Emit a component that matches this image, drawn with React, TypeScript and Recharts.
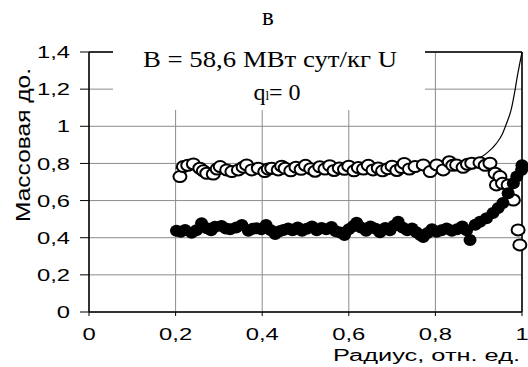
import { ComposedChart, Line, Scatter, XAxis, YAxis, CartesianGrid, ReferenceLine } from "recharts"

// open circles (upper series)
const openX = [
  0.210, 0.218, 0.228, 0.241, 0.256, 0.264, 0.272, 0.287, 0.296, 0.303, 0.318, 0.330, 0.345, 0.356, 0.364, 0.376,
  0.391, 0.406, 0.414, 0.422, 0.437, 0.445, 0.453, 0.466, 0.478, 0.490, 0.500, 0.512, 0.522, 0.533, 0.545, 0.556,
  0.566, 0.578, 0.590, 0.600, 0.612, 0.622, 0.634, 0.645, 0.656, 0.668, 0.678, 0.690, 0.700, 0.711, 0.722, 0.728,
  0.740, 0.753, 0.772, 0.788, 0.803, 0.818, 0.832, 0.840, 0.849, 0.864, 0.874, 0.884, 0.903, 0.915, 0.926, 0.938,
  0.941, 0.949, 0.955, 0.968, 0.980, 0.991, 0.995,
]
const openY = [
  0.729, 0.783, 0.790, 0.797, 0.774, 0.760, 0.747, 0.743, 0.770, 0.783, 0.765, 0.756, 0.765, 0.780, 0.792, 0.765,
  0.774, 0.756, 0.770, 0.774, 0.765, 0.785, 0.774, 0.760, 0.780, 0.768, 0.790, 0.772, 0.758, 0.782, 0.770, 0.788,
  0.762, 0.775, 0.768, 0.785, 0.760, 0.778, 0.770, 0.790, 0.765, 0.775, 0.760, 0.772, 0.785, 0.762, 0.778, 0.800,
  0.770, 0.783, 0.792, 0.756, 0.792, 0.765, 0.809, 0.790, 0.792, 0.779, 0.795, 0.801, 0.804, 0.790, 0.801, 0.747,
  0.684, 0.729, 0.693, 0.684, 0.603, 0.442, 0.361,
]

// filled circles (lower series)
const fillX = [
  0.202, 0.212, 0.222, 0.237, 0.248, 0.260, 0.272, 0.282, 0.291, 0.306, 0.316, 0.326, 0.340, 0.353, 0.368, 0.378,
  0.387, 0.398, 0.409, 0.420, 0.430, 0.440, 0.449, 0.460, 0.470, 0.482, 0.492, 0.503, 0.515, 0.526, 0.537, 0.548,
  0.560, 0.570, 0.580, 0.590, 0.600, 0.610, 0.618, 0.628, 0.640, 0.650, 0.662, 0.672, 0.684, 0.695, 0.704, 0.714,
  0.724, 0.735, 0.746, 0.756, 0.765, 0.772, 0.782, 0.792, 0.803, 0.814, 0.826, 0.838, 0.850, 0.862, 0.872, 0.880,
  0.892, 0.903, 0.918, 0.933, 0.945, 0.956, 0.968, 0.980, 0.988, 0.999, 1.000,
]
const fillY = [
  0.438, 0.432, 0.442, 0.427, 0.440, 0.478, 0.451, 0.440, 0.459, 0.463, 0.450, 0.445, 0.455, 0.469, 0.438, 0.448,
  0.451, 0.445, 0.469, 0.440, 0.420, 0.435, 0.442, 0.450, 0.440, 0.455, 0.438, 0.448, 0.460, 0.440, 0.452, 0.445,
  0.458, 0.435, 0.428, 0.415, 0.445, 0.462, 0.481, 0.455, 0.438, 0.460, 0.448, 0.430, 0.452, 0.440, 0.465, 0.486,
  0.455, 0.440, 0.450, 0.430, 0.415, 0.404, 0.425, 0.445, 0.432, 0.440, 0.450, 0.438, 0.445, 0.460, 0.440, 0.388,
  0.470, 0.486, 0.505, 0.533, 0.560, 0.587, 0.640, 0.693, 0.729, 0.765, 0.790,
]

// calculated curve
const curveX = [0.2, 0.4, 0.6, 0.75, 0.8, 0.85, 0.88, 0.9, 0.92, 0.94, 0.955, 0.965, 0.975, 0.985, 0.99, 0.995, 1.0]
const curveY = [0.775, 0.776, 0.778, 0.781, 0.784, 0.79, 0.805, 0.826, 0.858, 0.905, 0.96, 1.02, 1.09, 1.21, 1.28, 1.34, 1.4]

const xTicks = [0, 0.2, 0.4, 0.6, 0.8, 1]
const yTicks = [0, 0.2, 0.4, 0.6, 0.8, 1, 1.2, 1.4]

const openData = openX.map((x, i) => ({ x, y: openY[i] }))
const fillData = fillX.map((x, i) => ({ x, y: fillY[i] }))
const curveData = curveX.map((x, i) => ({ x, y: curveY[i] }))

const SANS = "Liberation Sans, Arial, sans-serif"
const SERIF = "Liberation Serif, DejaVu Serif, Times New Roman, serif"

const fmt = (v: number) => String(v).replace(".", ",")

const XTick = ({ x, y, payload }: any) => (
  <g transform={`translate(${x},${y})`}>
    <text transform="scale(1.4,1)" textAnchor="middle" dy="0.71em" style={{ fontSize: 17, fontFamily: SANS }} fill="#000">
      {fmt(payload.value)}
    </text>
  </g>
)

const YTick = ({ x, y, payload }: any) => (
  <g transform={`translate(${x},${y})`}>
    <text transform="scale(1.4,1)" textAnchor="end" dy="0.36em" style={{ fontSize: 17, fontFamily: SANS }} fill="#000">
      {fmt(payload.value)}
    </text>
  </g>
)

const OpenDot = ({ cx, cy }: any) => (
  <ellipse cx={cx} cy={cy} rx={6.5} ry={5.5} fill="#fff" stroke="#000" strokeWidth={2} />
)
const FillDot = ({ cx, cy }: any) => <ellipse cx={cx} cy={cy} rx={6.5} ry={6} fill="#000" />

export default function App() {
  return (
    <div style={{ position: "absolute", left: 0, top: 0, width: 528, height: 367, background: "#fff" }}>
      <ComposedChart width={528} height={367} margin={{ top: 52, right: 6, bottom: 0, left: 0 }}>
        <CartesianGrid stroke="#8c8c8c" strokeWidth={1} />
        <XAxis
          type="number"
          dataKey="x"
          domain={[0, 1]}
          ticks={xTicks}
          height={55}
          tickSize={4}
          tickMargin={12}
          tick={<XTick />}
          axisLine={{ stroke: "#000", strokeWidth: 1.5 }}
          tickLine={{ stroke: "#000" }}
        />
        <YAxis
          type="number"
          dataKey="y"
          domain={[0, 1.4]}
          ticks={yTicks}
          width={89}
          tickSize={9}
          tickMargin={10}
          tick={<YTick />}
          axisLine={{ stroke: "#000", strokeWidth: 1.5 }}
          tickLine={{ stroke: "#000" }}
        />
        <ReferenceLine y={1.4} stroke="#000" strokeWidth={1.5} />
        <ReferenceLine x={1} stroke="#000" strokeWidth={1.5} />
        <Line
          data={curveData}
          dataKey="y"
          type="monotone"
          stroke="#000"
          strokeWidth={1.2}
          dot={false}
          isAnimationActive={false}
        />
        <Scatter data={openData} dataKey="y" shape={<OpenDot />} isAnimationActive={false} />
        <Scatter data={fillData} dataKey="y" shape={<FillDot />} isAnimationActive={false} />
      </ComposedChart>
      <svg width={528} height={367} style={{ position: "absolute", left: 0, top: 0, pointerEvents: "none" }}>
        <text x={268} y={25} textAnchor="middle" style={{ fontSize: 25, fontFamily: SERIF }} fill="#000">
          в
        </text>
        <rect x={113} y={38} width={312} height={72} fill="#fff" />
        <text
          x={270}
          y={67}
          textAnchor="middle"
          style={{ fontSize: 24, fontFamily: SERIF }}
          fill="#000"
          textLength={254}
          lengthAdjust="spacingAndGlyphs"
        >
          B = 58,6 МВт сут/кг U
        </text>
        <text x={277} y={100} textAnchor="middle" style={{ fontSize: 24, fontFamily: SERIF }} fill="#000">
          q<tspan style={{ fontSize: 13 }}>l</tspan>= 0
        </text>
        <text
          transform="translate(30,145) rotate(-90)"
          textAnchor="middle"
          style={{ fontSize: 20, fontFamily: SANS }}
          fill="#000"
          textLength={154}
          lengthAdjust="spacingAndGlyphs"
        >
          Массовая до.
        </text>
        <text
          x={520}
          y={361}
          textAnchor="end"
          style={{ fontSize: 16, fontFamily: SANS }}
          fill="#000"
          textLength={187}
          lengthAdjust="spacingAndGlyphs"
        >
          Радиус, отн. ед.
        </text>
      </svg>
    </div>
  )
}
